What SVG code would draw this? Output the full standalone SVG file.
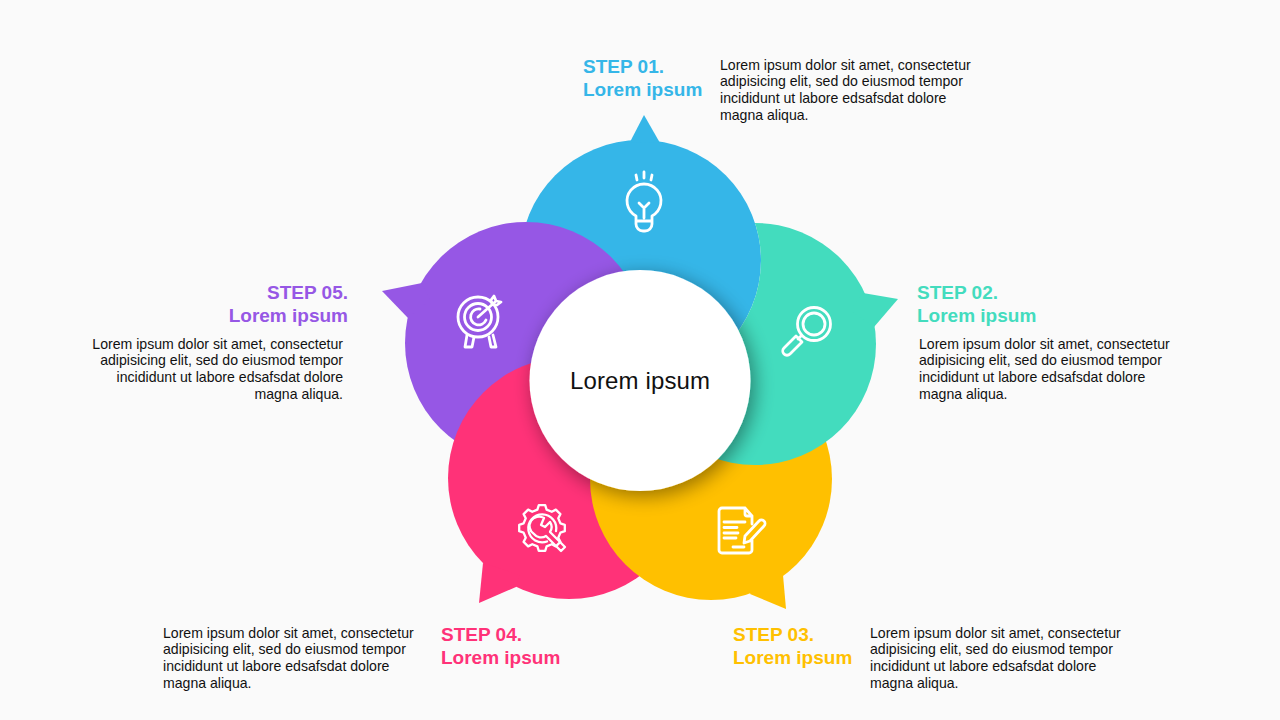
<svg xmlns="http://www.w3.org/2000/svg" width="1280" height="720" viewBox="0 0 1280 720">
<style>
text{font-family:"Liberation Sans",Arial,sans-serif}
.b{font-size:14.1px;fill:#111}
.h{font-size:19px;font-weight:700}
.h2{font-size:19px;font-weight:700}
.e{text-anchor:end}
.i{fill:none;stroke:#fff;stroke-width:2.8;stroke-linecap:round;stroke-linejoin:round}
.c1{fill:#35B6E8}.c2{fill:#43DCBE}.c3{fill:#FFC000}.c4{fill:#FF3278}.c5{fill:#9657E5}
</style>
<defs>
<filter id="s" x="-30%" y="-30%" width="160%" height="160%"><feGaussianBlur in="SourceAlpha" stdDeviation="10"/><feOffset dx="4" dy="5"/><feComponentTransfer><feFuncA type="linear" slope=".42"/></feComponentTransfer><feMerge><feMergeNode/><feMergeNode in="SourceGraphic"/></feMerge></filter>
<clipPath id="outBlue"><path clip-rule="evenodd" d="M600 200H920V500H600ZM761 260.500A120.500 120.500 0 1 0 520 260.500A120.500 120.500 0 1 0 761 260.500Z"/></clipPath>
</defs>
<rect width="1280" height="720" fill="#FAFAFA"/>
<g id="connectors"></g>
<g id="step-01">
<circle class="c1" cx="640.500" cy="260.500" r="120.500"/><polygon class="c1" points="644,115 660,143 630,142"/>
<g class="i"><path d="M636 216A17 17 0 1 1 652 216V224A7 7 0 0 1 645 231H643A7 7 0 0 1 636 224ZM636 221H652M644 218V208M639 203L644 208L649 203M636 175L637 180M644 172V178M652 175L651 180"/></g>
<text class="h c1" x="583" y="73">STEP 01.</text><text class="h2 c1" x="583" y="96">Lorem ipsum</text>
<text class="b" x="720" y="70">Lorem ipsum dolor sit amet, consectetur</text><text class="b" x="720" y="86">adipisicing elit, sed do eiusmod tempor</text><text class="b" x="720" y="103">incididunt ut labore edsafsdat dolore</text><text class="b" x="720" y="120">magna aliqua.</text>
</g>
<g id="step-05">
<circle class="c5" cx="526" cy="343" r="121"/><polygon class="c5" points="382,291 422,283 430,300 408,318"/>
<g class="i"><circle cx="478" cy="317" r="20"/><circle cx="478" cy="317" r="13.500"/><path d="M486 320A8 8 0 1 1 480 309M478 317L495 302M491 300L494 296L496 301L501 302L497 305L492 304ZM467 335L465 347H472L474 337M489 337L491 347H496L493 335" /></g>
<text class="h c5 e" x="348" y="299">STEP 05.</text><text class="h2 c5 e" x="348" y="322">Lorem ipsum</text>
<text class="b e" x="343" y="349">Lorem ipsum dolor sit amet, consectetur</text><text class="b e" x="343" y="365">adipisicing elit, sed do eiusmod tempor</text><text class="b e" x="343" y="382">incididunt ut labore edsafsdat dolore</text><text class="b e" x="343" y="399">magna aliqua.</text>
</g>
<g id="step-04">
<circle class="c4" cx="569" cy="478" r="121"/><polygon class="c4" points="479,603 483,563 520,575 516,587"/>
<g class="i" style="stroke-width:2.3" transform="translate(542 528)"><path d="M18.400 -4.600L22.800 -3.200V3.200L18.400 4.600L16.260 9.760L18.380 13.860L13.860 18.380L9.760 16.260L4.600 18.400L3.200 22.800H-3.200L-4.600 18.400L-9.760 16.260L-13.860 18.380L-18.380 13.860L-16.260 9.760L-18.400 4.600L-22.800 3.200V-3.200L-18.400 -4.600L-16.260 -9.760L-18.380 -13.860L-13.860 -18.380L-9.760 -16.260L-4.600 -18.400L-3.200 -22.800H3.200L4.600 -18.400L9.760 -16.260L13.860 -18.380L18.380 -13.860L16.260 -9.760Z"/><path d="M5 13.500A14 14 0 1 1 14 3"/><path d="M4 8L19 23L23 19L8 4A9 9 0 0 0 8 -6L3 -1L-1 -3L2 -10A9 9 0 0 0 -8 6A9 9 0 0 0 4 8Z"/></g>
<text class="h c4" x="441" y="641">STEP 04.</text><text class="h2 c4" x="441" y="664">Lorem ipsum</text>
<text class="b" x="163" y="638">Lorem ipsum dolor sit amet, consectetur</text><text class="b" x="163" y="654">adipisicing elit, sed do eiusmod tempor</text><text class="b" x="163" y="671">incididunt ut labore edsafsdat dolore</text><text class="b" x="163" y="688">magna aliqua.</text>
</g>
<g id="step-03">
<circle class="c3" cx="711" cy="479" r="121"/><polygon class="c3" points="786,609 750,594 760,570 783,575"/>
<g class="i"><path d="M745 508H722A3 3 0 0 0 719 511V550A3 3 0 0 0 722 553H749A3 3 0 0 0 752 550V540M752 524V516ZM745 508L752 516H747A2 2 0 0 1 745 514ZM724 522H745M724 527.500H737M724 533H738M724 538H736M733 547H744M744 543L745 536L759 521A3 3 0 0 1 764 526L750 541Z"/></g>
<text class="h c3" x="733" y="641">STEP 03.</text><text class="h2 c3" x="733" y="664">Lorem ipsum</text>
<text class="b" x="870" y="638">Lorem ipsum dolor sit amet, consectetur</text><text class="b" x="870" y="654">adipisicing elit, sed do eiusmod tempor</text><text class="b" x="870" y="671">incididunt ut labore edsafsdat dolore</text><text class="b" x="870" y="688">magna aliqua.</text>
</g>
<g id="step-02">
<g clip-path="url(#outBlue)"><circle class="c2" cx="755" cy="344" r="121"/><polygon class="c2" points="898,299 863,293 850,310 874,327"/></g>
<g class="i"><circle cx="814" cy="324" r="16.500"/><circle cx="814" cy="324" r="11"/><path d="M801 336L798 339M796 336L784 348A4 4 0 0 0 790 354L802 342Z"/></g>
<text class="h c2" x="917" y="299">STEP 02.</text><text class="h2 c2" x="917" y="322">Lorem ipsum</text>
<text class="b" x="919" y="349">Lorem ipsum dolor sit amet, consectetur</text><text class="b" x="919" y="365">adipisicing elit, sed do eiusmod tempor</text><text class="b" x="919" y="382">incididunt ut labore edsafsdat dolore</text><text class="b" x="919" y="399">magna aliqua.</text>
</g>
<g id="center">
<circle cx="640" cy="380.500" r="110.500" fill="#fff" filter="url(#s)"/>
<text x="640" y="389" font-size="24" text-anchor="middle" fill="#111" textLength="140">Lorem ipsum</text>
</g>
</svg>
